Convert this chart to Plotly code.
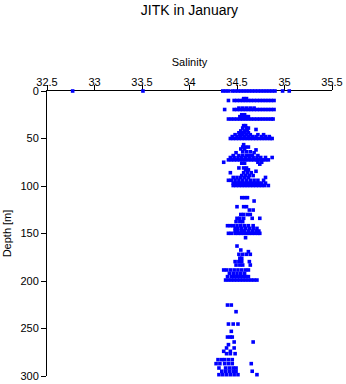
import plotly.graph_objects as go

# ---- data: (depth [m], [salinity values observed at that depth]) ----
rows_surface = [
    (0, [32.77, 33.51, 34.35, 34.38, 34.41, 34.45, 34.48, 34.51, 34.54, 34.57, 34.60, 34.63,
         34.66, 34.69, 34.72, 34.75, 34.78, 34.81, 34.84, 34.87, 34.90, 34.98, 35.05]),
    (8, [34.57, 34.60]),
    (10, [34.41, 34.47, 34.50, 34.53, 34.56, 34.59, 34.62, 34.65, 34.68, 34.71, 34.74, 34.77,
          34.80, 34.83, 34.86, 34.89]),
    (18, [34.52, 34.56, 34.60, 34.64, 34.68]),
    (19.5, [34.37, 34.47, 34.50, 34.53, 34.56, 34.59, 34.62, 34.65, 34.68, 34.71, 34.74, 34.77,
            34.80, 34.83, 34.86, 34.89]),
    (25, [34.55, 34.58]),
    (27, [34.53, 34.56, 34.59, 34.62]),
    (29.5, [34.41, 34.44, 34.47, 34.50, 34.53, 34.56, 34.59, 34.62, 34.65, 34.68, 34.71, 34.74,
            34.77, 34.80, 34.83, 34.86, 34.88]),
]

rows_40_75 = [
    (36.5, [34.57, 34.59]),
    (39, [34.56, 34.60, 34.62]),
    (40.5, [34.70]),
    (42, [34.54, 34.58, 34.61]),
    (44, [34.52, 34.55, 34.58, 34.62]),
    (46, [34.48, 34.53, 34.56, 34.60, 34.64, 34.72, 34.78]),
    (48, [34.45, 34.50, 34.54, 34.58, 34.62, 34.66, 34.70, 34.76, 34.80, 34.84]),
    (50, [34.43, 34.46, 34.49, 34.52, 34.55, 34.58, 34.61, 34.64, 34.67, 34.70, 34.73, 34.76,
          34.79, 34.82, 34.85, 34.87]),
    (56.5, [34.57]),
    (59, [34.56, 34.59, 34.62]),
    (61, [34.54, 34.58]),
    (62, [34.70]),
    (64, [34.56, 34.60, 34.64]),
    (65, [34.49, 34.68]),
    (68, [34.46, 34.52, 34.56, 34.60, 34.63, 34.66, 34.72]),
    (70, [34.43, 34.47, 34.51, 34.55, 34.59, 34.63, 34.67, 34.71, 34.75, 34.80, 34.87]),
    (72.5, [34.41, 34.44, 34.47, 34.50, 34.53, 34.56, 34.59, 34.62, 34.65, 34.68, 34.71, 34.74,
            34.77, 34.80, 34.83]),
    (75, [34.36, 34.72, 34.76]),
]

rows_75_120 = [
    (76, [34.55, 34.58]),
    (77, [34.74]),
    (81, [34.52, 34.57, 34.60]),
    (83, [34.59, 34.62]),
    (84.5, [34.70]),
    (86, [34.43, 34.57, 34.61, 34.65]),
    (89, [34.55, 34.59, 34.63, 34.67]),
    (91, [34.46, 34.50, 34.54, 34.58, 34.62, 34.80]),
    (94, [34.41, 34.44, 34.48, 34.52, 34.56, 34.60, 34.64, 34.68, 34.72, 34.78]),
    (97, [34.46, 34.49, 34.52, 34.55, 34.58, 34.61, 34.64, 34.67, 34.70, 34.73, 34.76, 34.80]),
    (99.5, [34.46, 34.49, 34.52, 34.55, 34.58, 34.61, 34.64, 34.67, 34.70, 34.73, 34.76, 34.79,
            34.83]),
    (112.3, [34.55, 34.58, 34.61]),
    (115.8, [34.68]),
]

rows_120_155 = [
    (121.8, [34.50, 34.57, 34.60]),
    (125.3, [34.63, 34.67]),
    (130, [34.54, 34.57, 34.61, 34.64]),
    (134, [34.50, 34.53, 34.57, 34.66, 34.74]),
    (137.5, [34.49, 34.53, 34.56]),
    (141.8, [34.40, 34.43, 34.46, 34.50, 34.54, 34.58, 34.62, 34.67]),
    (144.6, [34.48, 34.51, 34.55, 34.59, 34.63, 34.67, 34.71]),
    (147.4, [34.48, 34.51, 34.55, 34.58, 34.62, 34.66, 34.70, 34.73]),
    (149.8, [34.41, 34.44, 34.48, 34.51, 34.54, 34.57, 34.60, 34.63, 34.66, 34.69, 34.72,
             34.74]),
    (154.4, [34.59]),
]

rows_160_200 = [
    (163.2, [34.50]),
    (167.4, [34.54]),
    (169.1, [34.62]),
    (171.9, [34.52, 34.56, 34.60, 34.64]),
    (176, [34.53, 34.55]),
    (179.6, [34.48, 34.52, 34.55, 34.63]),
    (183.2, [34.49, 34.53, 34.56, 34.64]),
    (188.4, [34.36, 34.39, 34.43, 34.47, 34.51, 34.55, 34.59, 34.62]),
    (191.9, [34.42, 34.46, 34.50, 34.54, 34.58]),
    (195.4, [34.40, 34.44, 34.47, 34.50, 34.53, 34.56, 34.59, 34.62]),
    (199, [34.38, 34.41, 34.44, 34.47, 34.50, 34.53, 34.56, 34.59, 34.62, 34.65, 34.68, 34.71]),
]

rows_deep = [
    (225.3, [34.40, 34.44]),
    (232.3, [34.49]),
    (245.3, [34.41, 34.46, 34.51]),
    (253, [34.44]),
    (259, [34.40, 34.43, 34.45]),
    (264.2, [34.47, 34.67]),
    (267, [34.41]),
    (270.5, [34.39, 34.47]),
    (274, [34.36, 34.43]),
    (276.5, [34.39, 34.43, 34.48]),
    (282.8, [34.30, 34.34, 34.37, 34.41, 34.45]),
    (287, [34.28, 34.32, 34.37, 34.41, 34.45, 34.65]),
    (291.6, [34.31, 34.38, 34.42, 34.46, 34.49]),
    (295, [34.34, 34.38, 34.42, 34.46, 34.49, 34.66]),
    (298.6, [34.31, 34.35, 34.39, 34.43, 34.47, 34.51, 34.71]),
]

x_ticks = [32.5, 33, 33.5, 34, 34.5, 35, 35.5]
x_tick_text = ["32.5", "33", "33.5", "34", "34.5", "35", "35.5"]
y_ticks = [0, 50, 100, 150, 200, 250, 300]

# ---- build point lists from the rows ----
sal, dep = [], []
for block in (rows_surface, rows_40_75, rows_75_120, rows_120_155, rows_160_200, rows_deep):
    for d, svals in block:
        for s in svals:
            sal.append(s)
            dep.append(d)

font_family = "Liberation Sans, Arial, Helvetica, sans-serif"

fig = go.Figure()
fig.add_trace(go.Scatter(
    x=sal, y=dep, mode="markers",
    marker=dict(symbol="square", size=3.6, color="#0000ff", line=dict(width=0)),
    cliponaxis=False, hoverinfo="x+y",
))

fig.update_layout(
    width=346, height=384,
    margin=dict(l=47, r=14, t=91, b=8, autoexpand=False),
    paper_bgcolor="white", plot_bgcolor="white",
    showlegend=False,
    font=dict(family=font_family, color="black", size=11),
    title=dict(text="JITK in January", x=0.5, xref="paper", xanchor="center",
               y=1 - 10 / 384, yref="container", yanchor="middle",
               font=dict(size=14, color="black", family=font_family)),
    xaxis=dict(side="top", range=[32.5, 35.5], tickvals=x_ticks, ticktext=x_tick_text,
               ticks="outside", ticklen=5, tickcolor="black", showline=True,
               linecolor="black", linewidth=1, showgrid=False, zeroline=False,
               layer="below traces", automargin=False, ticklabelstandoff=-5,
               tickfont=dict(size=11, color="black"),
               title=dict(text="Salinity", standoff=6, font=dict(size=11, color="black"))),
    yaxis=dict(range=[300, 0], tickvals=y_ticks, ticks="outside", ticklen=5,
               tickcolor="black", showline=True, linecolor="black", linewidth=1,
               showgrid=False, zeroline=False, layer="below traces", automargin=False,
               tickfont=dict(size=11, color="black"),
               title=dict(text="Depth [m]", standoff=6, font=dict(size=11, color="black"))),
)

fig.write_html("out.html")
